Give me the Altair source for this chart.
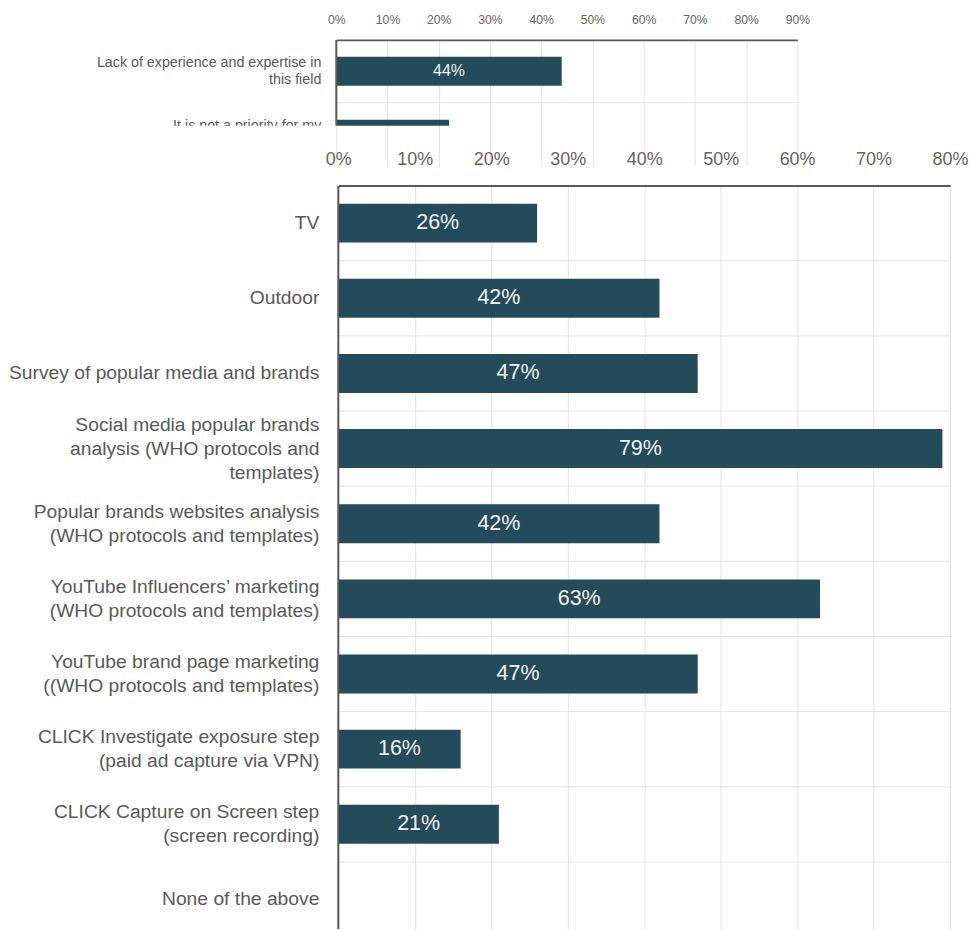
import altair as alt
import pandas as pd

# ---------------- data ----------------
top_categories = [
    "Lack of experience and expertise in\nthis field",
    "It is not a priority for my\norganisation",
]
top_values = [0.44, 0.22]
top_ticks = [0, 0.1, 0.2, 0.3, 0.4, 0.5, 0.6, 0.7, 0.8, 0.9]

main_categories = [
    "TV",
    "Outdoor",
    "Survey of popular media and brands",
    "Social media popular brands\nanalysis (WHO protocols and\ntemplates)",
    "Popular brands websites analysis\n(WHO protocols and templates)",
    "YouTube Influencers\u2019 marketing\n(WHO protocols and templates)",
    "YouTube brand page marketing\n((WHO protocols and templates)",
    "CLICK Investigate exposure step\n(paid ad capture via VPN)",
    "CLICK Capture on Screen  step\n(screen recording)",
    "None of the above",
]
main_values = [0.26, 0.42, 0.47, 0.79, 0.42, 0.63, 0.47, 0.16, 0.21, 0.0]
main_ticks = [0, 0.1, 0.2, 0.3, 0.4, 0.5, 0.6, 0.7, 0.8]

BAR = "#244b5a"
GRID = "#e3e3e3"
FRAME = "#595959"
LABEL = "#595959"
TICKLBL = "#6a625c"
FONT = "Liberation Sans"


def panel(cats, vals, ticks, xmax, x0, x1, width, height, step, bar_size,
          tick_font, tick_pad, x_extent, cat_font, cat_lh, cat_x, val_font):
    df = pd.DataFrame({"cat": cats, "value": vals, "idx": list(range(len(cats)))})
    base = alt.Chart(df)
    x_scale = alt.Scale(domain=[0, xmax], range=[x0, x1], nice=False, zero=True)
    y_scale = alt.Scale(domain=cats, range=[0, step * len(cats)],
                        paddingInner=0, paddingOuter=0)
    yenc = alt.Y("cat:N", scale=y_scale, axis=None)

    hgrid = base.transform_filter("datum.idx > 0").mark_rule(
        color=GRID, strokeWidth=1, clip=True
    ).encode(
        y=alt.Y("cat:N", scale=y_scale, axis=None, bandPosition=0),
        x=alt.datum(0),
        x2=alt.datum(xmax),
    )

    bars = base.mark_bar(color=BAR, size=bar_size, clip=True).encode(
        y=yenc,
        x=alt.X(
            "value:Q",
            scale=x_scale,
            axis=alt.Axis(
                orient="top", values=ticks, format=".0%", title=None,
                labelFont=FONT, labelFontSize=tick_font, labelColor=TICKLBL,
                labelPadding=tick_pad, labelBaseline="alphabetic",
                labelFlush=False, labelOverlap=False, labelAlign="center",
                ticks=False, tickSize=0,
                domain=True, domainColor=FRAME, domainWidth=2,
                grid=True, gridColor=GRID, gridWidth=1,
                minExtent=x_extent, maxExtent=x_extent,
            ),
        ),
    )

    left = base.transform_filter("datum.idx == 0").mark_rule(
        color=FRAME, strokeWidth=2, clip=True
    ).encode(x=alt.datum(0), y=alt.value(0), y2=alt.value(height))

    values = base.transform_filter("datum.value > 0").transform_calculate(
        half="datum.value / 2"
    ).mark_text(
        color="#f2f2f2", font=FONT, fontSize=val_font, align="center",
        baseline="middle", clip=True
    ).encode(
        x=alt.X("half:Q"),
        y=yenc,
        text=alt.Text("value:Q", format=".0%"),
    )

    half_lh = cat_lh / 2
    labels = base.transform_calculate(
        lines="split(datum.cat, '\\n')"
    ).mark_text(
        color=LABEL, font=FONT, fontSize=cat_font, lineHeight=cat_lh,
        align="right", baseline="middle", clip=True,
        dy=alt.expr(f"-(length(split(datum.cat, '\\n')) - 1) * {half_lh}"),
    ).encode(
        x=alt.value(cat_x),
        y=yenc,
        text=alt.Text("lines:N"),
    )

    return alt.layer(hgrid, bars, left, values, labels).properties(
        width=width, height=height
    )


top = panel(top_categories, top_values, top_ticks, 0.9,
            337, 799, 799, 86, 63, 29,
            12.2, 16, 39, 14.3, 17, 322, 16)

main = panel(main_categories, main_values, main_ticks, 0.8,
             339, 952, 952, 745, 75.3, 39,
             18, 21, 45, 19.3, 24, 320, 21.5)

chart = alt.vconcat(top, main, spacing=15).properties(
    padding=0
).configure_view(stroke=None)

chart.save("out.html", embed_options={"renderer": "svg", "actions": False})
